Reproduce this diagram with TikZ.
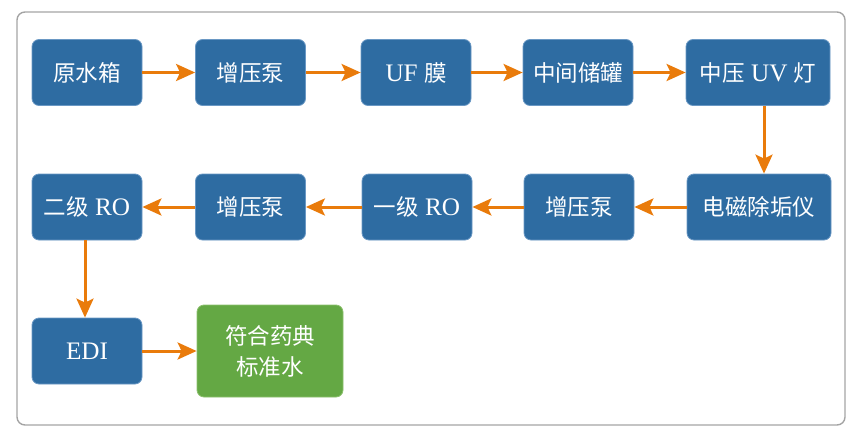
\documentclass[tikz,border=0pt]{standalone}
\usepackage{fontspec}
\setmainfont[Scale=1.12]{Liberation Serif}
\newfontfamily\cjk{Noto Sans CJK SC}
\usetikzlibrary{arrows.meta}
\definecolor{boxblue}{HTML}{2E6CA2}
\definecolor{boxedge}{HTML}{6A98C4}
\definecolor{boxgreen}{HTML}{64A844}
\definecolor{greenedge}{HTML}{8CC06E}
\definecolor{flow}{HTML}{E97B0B}
\definecolor{frame}{HTML}{A4A4A4}
\begin{document}
\begin{tikzpicture}[x=1pt,y=-1pt,
  proc/.style={draw=boxedge,line width=0.8pt,fill=boxblue,rounded corners=7pt,
    text=white,inner sep=0pt,minimum width=110pt,minimum height=66pt,
    font=\fontsize{22.5}{26}\selectfont,align=center},
  wide/.style={proc,minimum width=144pt},
  final/.style={proc,draw=greenedge,fill=boxgreen,minimum width=146pt,minimum height=92pt,
    font=\fontsize{22.5}{31}\selectfont},
  flowarrow/.style={draw=flow,line width=3pt,
    -{Stealth[length=19pt,width=17pt,inset=4pt,fill=flow]}}]
\useasboundingbox (0,0) rectangle (858,436);
\draw[frame,line width=1.4pt,rounded corners=8pt] (17,12) rectangle (845,425);
% row 1
\node[proc] (a1) at (87,72.5) {\cjk 原水箱};
\node[proc] (a2) at (250.5,72.5) {\cjk 增压泵};
\node[proc] (a3) at (416,72.5) {UF {\cjk 膜}};
\node[proc] (a4) at (578,72.5) {\cjk 中间储罐};
\node[wide] (a5) at (758,72.5) {{\cjk 中压} UV {\cjk 灯}};
% row 2
\node[wide] (b5) at (759,207) {\cjk 电磁除垢仪};
\node[proc] (b4) at (579,207) {\cjk 增压泵};
\node[proc] (b3) at (417,207) {{\cjk 一级} RO};
\node[proc] (b2) at (250.5,207) {\cjk 增压泵};
\node[proc] (b1) at (87,207) {{\cjk 二级} RO};
% row 3
\node[proc] (c1) at (87,351) {EDI};
\node[final] (c2) at (270,351) {{\cjk 符合药典}\\{\cjk 标准水}};
% connectors
\draw[flowarrow] (a1) -- (a2);
\draw[flowarrow] (a2) -- (a3);
\draw[flowarrow] (a3) -- (a4);
\draw[flowarrow] (a4) -- (a5);
\draw[flowarrow] ([xshift=6pt]a5.south) -- ([xshift=5pt]b5.north);
\draw[flowarrow] (b5) -- (b4);
\draw[flowarrow] (b4) -- (b3);
\draw[flowarrow] (b3) -- (b2);
\draw[flowarrow] (b2) -- (b1);
\draw[flowarrow] ([xshift=-2pt]b1.south) -- ([xshift=-2pt]c1.north);
\draw[flowarrow] (c1) -- (c2);
\end{tikzpicture}
\end{document}
